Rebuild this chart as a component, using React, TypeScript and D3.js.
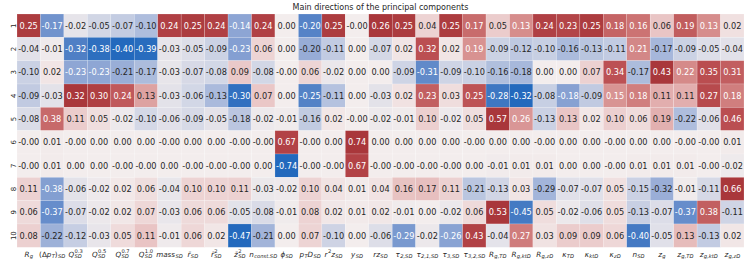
import React, { useRef, useEffect } from "react";
import * as d3 from "d3";

type Seg = { b: string; it?: boolean; sub?: string; sup?: string };

const components = ["1", "2", "3", "4", "5", "6", "7", "8", "9", "10"];

const featureLabels: Seg[][] = [
  [{ b: "R", sub: "g" }],
  [{ b: "(Δ", it: false }, { b: "p", sub: "T" }, { b: ")", it: false, sub: "SD" }],
  [{ b: "Q", sup: "0.3", sub: "SD" }],
  [{ b: "Q", sup: "0.5", sub: "SD" }],
  [{ b: "Q", sup: "0.7", sub: "SD" }],
  [{ b: "Q", sup: "1.0", sub: "SD" }],
  [{ b: "mass", sub: "SD" }],
  [{ b: "r̄", sub: "SD" }],
  [{ b: "r̄", sup: "2", sub: "SD" }],
  [{ b: "z̄", sup: "2", sub: "SD" }],
  [{ b: "n", sub: "const.SD" }],
  [{ b: "ϕ", sub: "SD" }],
  [{ b: "p", sub: "T" }, { b: "D", sub: "SD" }],
  [{ b: "r", sup: "2" }, { b: "z", sub: "SD" }],
  [{ b: "y", sub: "SD" }],
  [{ b: "rz", sub: "SD" }],
  [{ b: "τ", sub: "2,SD" }],
  [{ b: "τ", sub: "2,1,SD" }],
  [{ b: "τ", sub: "3,SD" }],
  [{ b: "τ", sub: "3,2,SD" }],
  [{ b: "R", sub: "g,TD" }],
  [{ b: "R", sub: "g,ktD" }],
  [{ b: "R", sub: "g,zD" }],
  [{ b: "κ", sub: "TD" }],
  [{ b: "κ", sub: "ktD" }],
  [{ b: "κ", sub: "zD" }],
  [{ b: "n", sub: "SD" }],
  [{ b: "z", sub: "g" }],
  [{ b: "z", sub: "g,TD" }],
  [{ b: "z", sub: "g,ktD" }],
  [{ b: "z", sub: "g,zD" }],
];

const pc1 = [0.25, -0.17, -0.02, -0.05, -0.07, -0.10, 0.24, 0.25, 0.24, -0.14, 0.24, 0.00, -0.20, 0.25, -0.00, 0.26, 0.25, 0.04, 0.25, 0.17, 0.05, 0.13, 0.24, 0.23, 0.25, 0.18, 0.16, 0.06, 0.19, 0.13, 0.02];
const pc2 = [-0.04, -0.01, -0.32, -0.38, -0.40, -0.39, -0.03, -0.05, -0.09, -0.23, 0.06, 0.00, -0.20, -0.11, 0.00, -0.07, 0.02, 0.32, 0.02, 0.19, -0.09, -0.12, -0.10, -0.16, -0.13, -0.11, 0.21, -0.17, -0.09, -0.05, -0.04];
const pc3 = [-0.10, 0.02, -0.23, -0.23, -0.21, -0.17, -0.03, -0.07, -0.08, 0.09, -0.08, -0.00, 0.06, -0.02, 0.00, 0.00, -0.09, -0.31, -0.09, -0.10, -0.16, -0.18, 0.00, 0.00, 0.07, 0.34, -0.17, 0.43, 0.22, 0.35, 0.31];
const pc4 = [-0.09, -0.03, 0.32, 0.30, 0.24, 0.13, -0.03, -0.06, -0.13, -0.30, 0.07, 0.00, -0.25, -0.11, 0.00, -0.03, 0.02, 0.23, 0.03, 0.25, -0.28, -0.32, -0.08, -0.18, -0.09, 0.15, 0.18, 0.11, 0.11, 0.27, 0.18];
const pc5 = [-0.08, 0.38, 0.11, 0.05, -0.02, -0.10, -0.06, -0.09, -0.05, -0.18, -0.02, -0.01, -0.16, 0.02, -0.00, -0.02, -0.01, 0.10, -0.02, 0.05, 0.57, 0.26, -0.13, 0.13, 0.02, 0.10, 0.06, 0.19, -0.22, -0.06, 0.46];
const pc6 = [-0.00, 0.01, -0.00, 0.00, 0.00, 0.00, -0.00, 0.00, 0.00, -0.00, -0.00, 0.67, -0.00, 0.00, 0.74, 0.00, 0.00, 0.00, 0.00, -0.00, 0.00, 0.00, -0.00, 0.00, 0.00, -0.00, 0.00, 0.00, -0.00, -0.00, 0.01];
const pc7 = [-0.00, 0.01, 0.00, 0.00, -0.00, -0.00, 0.00, -0.00, -0.00, -0.00, 0.00, -0.74, -0.00, -0.00, 0.67, -0.00, -0.00, -0.00, -0.00, 0.00, -0.01, 0.01, 0.01, 0.00, 0.00, -0.00, 0.01, 0.01, 0.01, -0.00, -0.02];
const pc8 = [0.11, -0.38, -0.06, -0.02, 0.02, 0.06, -0.04, 0.10, 0.10, 0.11, -0.03, -0.02, 0.10, 0.04, 0.01, 0.04, 0.16, 0.17, 0.11, -0.21, -0.13, 0.03, -0.29, -0.07, -0.07, 0.05, -0.15, -0.32, -0.01, -0.11, 0.66];
const pc9 = [0.06, -0.37, -0.07, -0.02, 0.02, 0.07, -0.03, 0.06, 0.06, -0.05, -0.08, -0.01, 0.08, 0.02, 0.01, 0.02, -0.01, 0.00, -0.02, 0.06, 0.53, -0.45, 0.05, -0.02, -0.06, 0.05, -0.13, -0.07, -0.37, 0.38, -0.11];
const pc10 = [0.08, -0.22, -0.12, -0.03, 0.05, 0.11, -0.01, 0.06, 0.02, -0.47, -0.21, 0.00, 0.07, -0.10, 0.00, -0.06, -0.29, -0.02, -0.26, 0.43, -0.04, 0.27, 0.03, 0.09, 0.09, 0.06, -0.40, -0.05, 0.13, -0.13, 0.02];

const rowsData = [pc1, pc2, pc3, pc4, pc5, pc6, pc7, pc8, pc9, pc10];

const titleText = "Main directions of the principal components";

const W = 748;
const H = 267;
const left = 17;
const right = 744;
const top = 14;
const bottom = 247.3;

const vlag = d3
  .scaleLinear<string>()
  .domain([0, 0.1, 0.2, 0.25, 0.3, 0.4, 0.5, 0.6, 0.7, 0.8, 0.9, 1])
  .range(["#2369bd", "#4f7fc5", "#7d9bd0", "#97acd6", "#abbbdc", "#d0d5e5", "#f3eded", "#ebcbcb", "#dea3a2", "#cd7676", "#bb4f52", "#a9373b"])
  .interpolate(d3.interpolateRgb)
  .clamp(true);

function relLum(c: string) {
  const rgb = d3.rgb(c);
  const f = (v: number) => {
    const s = v / 255;
    return s <= 0.03928 ? s / 12.92 : Math.pow((s + 0.055) / 1.055, 2.4);
  };
  return 0.2126 * f(rgb.r) + 0.7152 * f(rgb.g) + 0.0722 * f(rgb.b);
}

const FONT = "'DejaVu Sans', sans-serif";

export default function App() {
  const ref = useRef<SVGSVGElement>(null);

  useEffect(() => {
    const svg = d3.select(ref.current);
    svg.selectAll("*").remove();

    const x = d3.scaleBand<number>().domain(d3.range(featureLabels.length)).range([left, right]).padding(0);
    const y = d3.scaleBand<string>().domain(components).range([top, bottom]).padding(0);

    const cells = svg.append("g");
    rowsData.forEach((row, ri) => {
      const maxAbs = d3.max(row, (v) => Math.abs(v)) || 1;
      row.forEach((v, ci) => {
        const t = (v / maxAbs + 1) / 2;
        const col = vlag(t);
        const cx = x(ci)!;
        const cy = y(components[ri])!;
        cells
          .append("rect")
          .attr("x", cx)
          .attr("y", cy)
          .attr("width", x.bandwidth())
          .attr("height", y.bandwidth())
          .attr("fill", col)
          .attr("stroke", "rgba(255,255,255,0.35)")
          .attr("stroke-width", 0.5);
        const label = (v < 0 || Object.is(v, -0) ? "-" : "") + Math.abs(v).toFixed(2);
        cells
          .append("text")
          .attr("x", cx + x.bandwidth() / 2)
          .attr("y", cy + y.bandwidth() / 2)
          .attr("text-anchor", "middle")
          .attr("dominant-baseline", "central")
          .attr("font-family", FONT)
          .attr("font-size", 8.2)
          .attr("fill", relLum(col) > 0.408 ? "#262626" : "#ffffff")
          .text(label);
      });
    });

    // y tick labels
    components.forEach((c) => {
      svg
        .append("text")
        .attr("transform", `translate(15.5, ${y(c)! + y.bandwidth() / 2}) rotate(-90)`)
        .attr("text-anchor", "middle")
        .attr("font-family", FONT)
        .attr("font-size", 7)
        .attr("fill", "#262626")
        .text(c);
    });

    // x tick labels
    const baseSize = 7.2;
    const smallSize = 5.2;
    const baseline = 256.5;
    featureLabels.forEach((segs, ci) => {
      const g = svg.append("g");
      let px = 0;
      segs.forEach((s) => {
        const t = g
          .append("text")
          .attr("x", px)
          .attr("y", 0)
          .attr("font-family", FONT)
          .attr("font-size", baseSize)
          .attr("font-style", s.it === false ? "normal" : "italic")
          .attr("fill", "#262626")
          .text(s.b);
        px += (t.node() as SVGTextElement).getComputedTextLength();
        let w2 = 0;
        if (s.sup) {
          const st = g
            .append("text")
            .attr("x", px + 0.3)
            .attr("y", -3.2)
            .attr("font-family", FONT)
            .attr("font-size", smallSize)
            .attr("font-style", /[a-zA-Z]/.test(s.sup) ? "italic" : "normal")
            .attr("fill", "#262626")
            .text(s.sup);
          w2 = Math.max(w2, (st.node() as SVGTextElement).getComputedTextLength() + 0.3);
        }
        if (s.sub) {
          const st = g
            .append("text")
            .attr("x", px + 0.3)
            .attr("y", 1.8)
            .attr("font-family", FONT)
            .attr("font-size", smallSize)
            .attr("font-style", "italic")
            .attr("fill", "#262626")
            .text(s.sub);
          w2 = Math.max(w2, (st.node() as SVGTextElement).getComputedTextLength() + 0.3);
        }
        px += w2;
      });
      const cx = x(ci)! + x.bandwidth() / 2;
      g.attr("transform", `translate(${cx - px / 2}, ${baseline})`);
    });

    // title
    svg
      .append("text")
      .attr("x", (left + right) / 2)
      .attr("y", 10)
      .attr("text-anchor", "middle")
      .attr("font-family", FONT)
      .attr("font-size", 8)
      .attr("fill", "#262626")
      .text(titleText);
  }, []);

  return (
    <svg
      ref={ref}
      width={W}
      height={H}
      style={{ position: "absolute", left: 0, top: 0, display: "block", background: "#ffffff" }}
    />
  );
}
